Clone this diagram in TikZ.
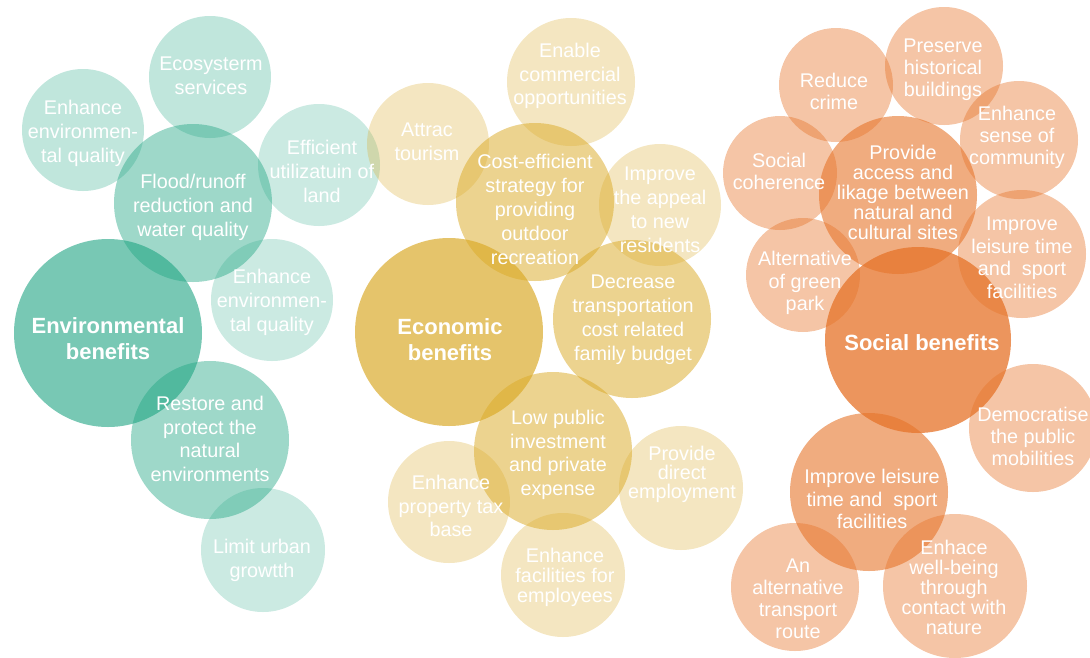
\documentclass[tikz,border=0pt]{standalone}
\usepackage{fontspec}
\setmainfont{Liberation Sans}
\definecolor{gbase}{RGB}{30,164,130}
\definecolor{ybase}{RGB}{218,170,40}
\definecolor{sbase}{RGB}{230,116,42}
\tikzset{
  bub/.style={circle, draw=none, inner sep=0pt, minimum size={2*#1pt}},
  envB/.style={fill=gbase, fill opacity=0.6},
  envM/.style={fill=gbase, fill opacity=0.43},
  envL/.style={fill=gbase, fill opacity=0.28},
  envXL/.style={fill=gbase, fill opacity=0.23},
  ecoB/.style={fill=ybase, fill opacity=0.69},
  ecoM/.style={fill=ybase, fill opacity=0.52},
  ecoL/.style={fill=ybase, fill opacity=0.29},
  socB/.style={fill=sbase, fill opacity=0.76},
  socM/.style={fill=sbase, fill opacity=0.6},
  socL/.style={fill=sbase, fill opacity=0.42},
  txt/.style={text=white, align=center, inner sep=0pt, font=\fontsize{19.8pt}{#1pt}\selectfont},
  txt/.default=24,
  btxt/.style={text=white, align=center, inner sep=0pt, font=\bfseries\fontsize{22pt}{26pt}\selectfont},
}
\begin{document}
\begin{tikzpicture}[x=1pt, y=-1pt]
\useasboundingbox (0,0) rectangle (1090,657);
% ---------- Environmental ----------
\node[bub=61, envL] (e1) at (83,130) {};
\node[bub=61, envL] (e2) at (210,77) {};
\node[bub=61, envXL] (e4) at (319,165) {};
\node[bub=61, envXL] (e5) at (272,300) {};
\node[bub=62, envXL] (e7) at (263,550) {};
\node[bub=79, envM] (e3) at (193,203) {};
\node[bub=79, envM] (e6) at (210,440) {};
\node[bub=94, envB] (e0) at (108,333) {};
% ---------- Economic ----------
\node[bub=61, ecoL] (c1) at (428,144) {};
\node[bub=64, ecoL] (c2) at (571,82) {};
\node[bub=61, ecoL] (c4) at (660,205) {};
\node[bub=61, ecoL] (c7) at (449,502) {};
\node[bub=62, ecoL] (c8) at (681,488) {};
\node[bub=62, ecoL] (c9) at (563,575) {};
\node[bub=79, ecoM] (c3) at (535,202) {};
\node[bub=79, ecoM] (c5) at (632,319) {};
\node[bub=79, ecoM] (c6) at (553,451) {};
\node[bub=94, ecoB] (c0) at (449,332) {};
% ---------- Social ----------
\node[bub=57, socL] (s1) at (836,85) {};
\node[bub=59, socL] (s2) at (944,66) {};
\node[bub=59, socL] (s3) at (1019,140) {};
\node[bub=57, socL] (s4) at (780,173) {};
\node[bub=64, socL] (s6) at (1022,254) {};
\node[bub=57, socL] (s7) at (803,275) {};
\node[bub=64, socL] (s8) at (1033,428) {};
\node[bub=64, socL] (s10) at (795,587) {};
\node[bub=72, socL] (s11) at (955,586) {};
\node[bub=79, socM] (s5) at (898,195) {};
\node[bub=79, socM] (s9) at (869,492) {};
\node[bub=93, socB] (s0) at (918,340) {};
% ---------- Texts ----------
\node[txt] (te1) at (83,133) {Enhance\\environmen-\\tal quality};
\node[txt] (te2) at (211,76) {Ecosysterm\\services};
\node[txt] (te3) at (193,207) {Flood/runoff\\reduction and\\water quality};
\node[txt] (te4) at (322,171) {Efficient\\utilizatuin of\\land};
\node[txt] (te5) at (272,302) {Enhance\\environmen-\\tal quality};
\node[btxt] (te0) at (108,339) {Environmental\\benefits};
\node[txt=23.7] (te6) at (210,439) {Restore and\\protect the\\natural\\environments};
\node[txt] (te7) at (262,560) {Limit urban\\growtth};
\node[txt=23.5] (tc1) at (427,142) {Attrac\\tourism};
\node[txt=23.5] (tc2) at (570,76) {Enable\\commercial\\opportunities};
\node[txt] (tc3) at (535,209) {Cost-efficient\\strategy for\\providing\\outdoor\\recreation};
\node[txt] (tc4) at (660,210) {Improve\\the appeal\\to new\\residents};
\node[txt] (tc5) at (633,320) {Decrease\\transportation\\cost related\\family budget};
\node[btxt] (tc0) at (450,340) {Economic\\benefits};
\node[txt=23.7] (tc6) at (558,455) {Low public\\investment\\and private\\expense};
\node[txt=23.7] (tc7) at (451,506) {Enhance\\property tax\\base};
\node[txt=19] (tc8) at (682,474) {Provide\\direct\\employment};
\node[txt=20] (tc9) at (565,577) {Enhance\\facilities for\\employees};
\node[txt=22] (ts1) at (834,91) {Reduce\\crime};
\node[txt=22] (ts2) at (943,70) {Preserve\\historical\\buildings};
\node[txt=22] (ts3) at (1017,137) {Enhance\\sense of\\community};
\node[txt=22] (ts4) at (779,171) {Social\\coherence};
\node[txt=20] (ts5) at (903,192) {Provide\\access and\\likage between\\natural and\\cultural sites};
\node[txt=22.5] (ts6) at (1022,258) {Improve\\leisure time\\and~ sport\\facilities};
\node[txt=22.5] (ts7) at (805,283) {Alternative\\of green\\park};
\node[btxt] (ts0) at (922,343) {Social benefits};
\node[txt=22] (ts8) at (1033,436) {Democratise\\the public\\mobilities};
\node[txt=22.5] (ts9) at (872,499) {Improve leisure\\time and~ sport\\facilities};
\node[txt=22] (ts10) at (798,599) {An\\alternative\\transport\\route};
\node[txt=20] (ts11) at (954,587) {Enhace\\well-being\\through\\contact with\\nature};
\end{tikzpicture}
\end{document}
